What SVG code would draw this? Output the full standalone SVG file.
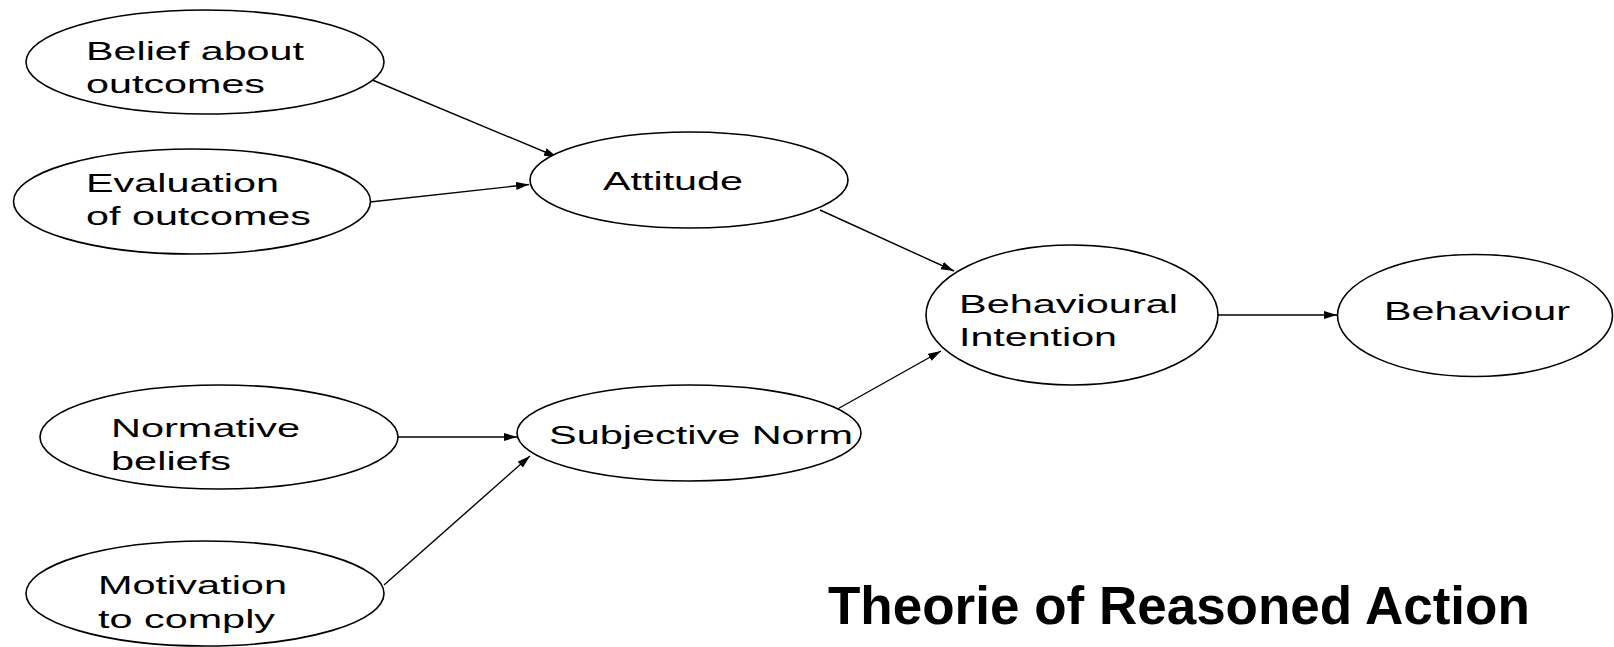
<svg xmlns="http://www.w3.org/2000/svg" width="1614" height="647" viewBox="0 0 1614 647">
  <style>
    .node ellipse { fill: #ffffff; stroke: #000000; stroke-width: 1.6; }
    .node text { font-family: "Liberation Sans", Arial, sans-serif; font-size: 25px; fill: #000000; }
    .edges line { stroke: #000000; stroke-width: 1.4; marker-end: url(#arrow); }
    .title { font-family: "Liberation Sans", Arial, sans-serif; font-size: 53px; font-weight: bold; fill: #000000; }
  </style>
  <defs>
    <marker id="arrow" markerUnits="userSpaceOnUse" markerWidth="14" markerHeight="10" refX="13" refY="4" orient="auto">
      <path d="M0,0 L13,4 L0,8 Z" fill="#000000"/>
    </marker>
  </defs>
  <rect width="1614" height="647" fill="#ffffff"/>

  <!-- connectors -->
  <g id="edges" class="edges">
    <line x1="370" y1="79" x2="557" y2="157"/>
    <line x1="370" y1="202" x2="529" y2="184.5"/>
    <line x1="820" y1="210" x2="954" y2="271"/>
    <line x1="834" y1="411" x2="941" y2="351"/>
    <line x1="397" y1="437" x2="517" y2="437"/>
    <line x1="384" y1="585" x2="530" y2="456"/>
    <line x1="1218" y1="315" x2="1337" y2="315"/>
  </g>

  <g id="belief" class="node">
    <ellipse cx="205" cy="62" rx="179" ry="52"/>
    <text x="86" y="59.5" textLength="218" lengthAdjust="spacingAndGlyphs">Belief about</text>
    <text x="86" y="92.5" textLength="179" lengthAdjust="spacingAndGlyphs">outcomes</text>
  </g>

  <g id="evaluation" class="node">
    <ellipse cx="192" cy="201.5" rx="178.5" ry="52.5"/>
    <text x="86" y="191.5" textLength="193" lengthAdjust="spacingAndGlyphs">Evaluation</text>
    <text x="86" y="224.5" textLength="225" lengthAdjust="spacingAndGlyphs">of outcomes</text>
  </g>

  <g id="attitude" class="node">
    <ellipse cx="689" cy="180" rx="159" ry="48"/>
    <text x="603" y="190" textLength="140" lengthAdjust="spacingAndGlyphs">Attitude</text>
  </g>

  <g id="normative" class="node">
    <ellipse cx="219" cy="437" rx="179" ry="52"/>
    <text x="111" y="436.5" textLength="189" lengthAdjust="spacingAndGlyphs">Normative</text>
    <text x="111" y="469.5" textLength="120" lengthAdjust="spacingAndGlyphs">beliefs</text>
  </g>

  <g id="motivation" class="node">
    <ellipse cx="205" cy="593.5" rx="179" ry="52.5"/>
    <text x="98" y="594" textLength="189" lengthAdjust="spacingAndGlyphs">Motivation</text>
    <text x="98" y="627.5" textLength="177" lengthAdjust="spacingAndGlyphs">to comply</text>
  </g>

  <g id="subjective-norm" class="node">
    <ellipse cx="689" cy="433" rx="172" ry="48"/>
    <text x="549" y="444" textLength="304" lengthAdjust="spacingAndGlyphs">Subjective Norm</text>
  </g>

  <g id="intention" class="node">
    <ellipse cx="1072" cy="315" rx="146" ry="70"/>
    <text x="959" y="312.8" textLength="219" lengthAdjust="spacingAndGlyphs">Behavioural</text>
    <text x="959" y="345.5" textLength="158" lengthAdjust="spacingAndGlyphs">Intention</text>
  </g>

  <g id="behaviour" class="node">
    <ellipse cx="1475" cy="315.5" rx="137.5" ry="61"/>
    <text x="1384" y="320" textLength="186" lengthAdjust="spacingAndGlyphs">Behaviour</text>
  </g>

  <text class="title" x="828" y="624">Theorie of Reasoned Action</text>
</svg>
